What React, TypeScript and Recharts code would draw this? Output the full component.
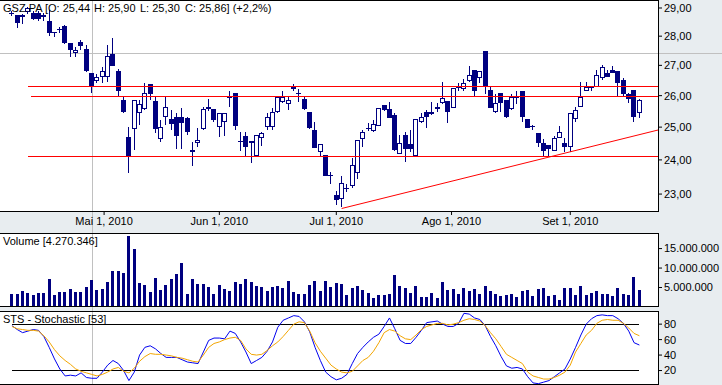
import React from "react";
import { ComposedChart, Bar, Line, XAxis, YAxis, ReferenceLine } from "recharts";

// ---------- data ----------
const opens = [
  28.80, 28.75, 28.68, 28.85, 28.82, 28.82, 28.68, 28.54, 28.13, 28.24,
  28.36, 27.75, 27.42, 27.78, 27.55, 26.74, 26.47, 26.61, 26.61, 27.39,
  26.80, 25.85, 24.69, 24.94, 25.43, 25.56, 26.37, 25.82, 24.63, 25.31,
  25.24, 25.31, 25.31, 25.28, 24.25, 24.52, 24.94, 25.62, 25.56, 25.00,
  25.15, 25.92, 26.10, 24.57, 24.72, 24.52, 24.11, 24.66, 25.00, 25.00,
  25.49, 25.79, 25.72, 26.20, 26.04, 25.88, 25.49, 24.91, 24.25, 24.14,
  23.55, 22.98, 22.87, 23.17, 23.22, 23.60, 24.63, 24.97, 24.88, 25.03,
  25.69, 25.56, 25.37, 24.17, 24.75, 24.49, 24.11, 25.15, 25.46, 25.40,
  25.62, 25.75, 25.82, 25.59, 26.24, 26.20, 26.47, 26.83, 26.58, 27.49,
  26.17, 25.46, 26.07, 25.85, 25.56, 25.95, 26.14, 25.24, 25.03, 24.82,
  24.52, 24.46, 24.28, 24.66, 24.52, 24.40, 25.24, 25.62, 26.14, 26.27,
  26.27, 26.58, 26.74, 26.83, 26.80, 26.50, 26.04, 26.17, 25.44,
];
const highs = [
  28.90, 28.75, 28.78, 29.05, 28.90, 28.88, 28.82, 28.93, 28.16, 28.33,
  28.38, 27.75, 27.62, 27.87, 27.70, 26.76, 26.71, 26.95, 27.70, 27.93,
  26.88, 26.00, 25.00, 25.85, 25.85, 26.40, 26.37, 25.95, 25.21, 25.98,
  25.53, 25.43, 25.60, 25.31, 24.55, 24.97, 25.62, 25.88, 25.56, 25.43,
  25.45, 26.14, 26.10, 24.85, 24.85, 24.57, 24.75, 24.85, 25.43, 25.59,
  25.95, 26.14, 25.95, 26.37, 26.20, 25.95, 25.49, 25.15, 24.49, 24.14,
  23.63, 23.08, 23.52, 23.28, 24.05, 24.60, 24.91, 25.12, 25.21, 25.59,
  25.69, 25.79, 25.43, 24.75, 24.85, 24.91, 25.24, 25.43, 25.53, 25.79,
  25.75, 26.43, 25.82, 26.24, 26.40, 26.53, 26.97, 26.83, 26.80, 27.49,
  26.27, 26.04, 26.07, 25.85, 26.04, 26.14, 26.14, 25.24, 25.06, 24.82,
  24.63, 24.46, 24.72, 25.03, 24.66, 25.43, 25.62, 26.43, 26.43, 26.33,
  26.83, 27.00, 26.86, 26.97, 26.80, 26.58, 26.07, 26.17, 25.90,
];
const lows = [
  28.70, 28.29, 28.43, 28.80, 28.58, 28.55, 28.55, 28.00, 27.98, 28.12,
  27.72, 27.28, 27.28, 27.52, 26.78, 26.10, 26.40, 26.40, 26.43, 26.97,
  25.95, 25.43, 23.60, 24.31, 25.06, 25.53, 25.85, 24.82, 24.55, 25.06,
  24.91, 24.34, 24.34, 24.75, 23.83, 24.40, 24.91, 25.50, 25.15, 24.69,
  24.72, 25.62, 24.91, 24.28, 24.11, 23.91, 24.11, 24.43, 24.91, 24.91,
  25.43, 25.76, 25.53, 26.14, 25.79, 25.53, 24.94, 24.37, 24.08, 23.52,
  23.28, 22.70, 22.62, 23.06, 23.17, 23.44, 24.40, 24.88, 24.85, 25.03,
  25.50, 25.28, 24.28, 24.17, 23.94, 24.25, 24.11, 25.12, 24.97, 25.37,
  25.49, 25.72, 25.12, 25.59, 26.14, 26.14, 26.43, 25.95, 26.40, 26.04,
  25.59, 25.43, 25.46, 25.28, 25.53, 25.72, 25.15, 24.97, 24.91, 24.40,
  24.11, 24.11, 24.28, 24.66, 24.25, 24.25, 25.15, 25.62, 26.14, 26.14,
  26.27, 26.50, 26.61, 26.74, 25.95, 26.00, 25.75, 25.15, 25.30,
];
const closes = [
  28.80, 28.47, 28.75, 29.00, 28.61, 28.61, 28.75, 28.12, 28.12, 28.25,
  27.75, 27.52, 27.52, 27.65, 26.80, 26.30, 26.61, 26.80, 27.32, 26.97,
  26.14, 25.46, 24.11, 25.85, 25.72, 26.07, 26.04, 24.94, 25.00, 25.62,
  25.09, 24.72, 25.12, 24.85, 24.31, 24.60, 25.56, 25.56, 25.21, 25.43,
  25.43, 25.95, 25.03, 24.55, 24.40, 24.57, 24.75, 24.82, 25.31, 25.46,
  25.95, 25.95, 25.85, 26.27, 26.07, 25.56, 24.97, 24.37, 24.49, 23.52,
  23.52, 22.82, 23.31, 23.14, 23.86, 24.60, 24.85, 24.94, 25.09, 25.59,
  25.53, 25.28, 24.31, 24.52, 24.34, 24.34, 25.24, 25.31, 25.31, 25.46,
  25.56, 25.92, 25.46, 26.24, 26.30, 26.40, 26.67, 26.14, 26.80, 26.33,
  25.59, 25.75, 25.75, 25.31, 25.95, 25.92, 25.31, 24.97, 25.00, 24.52,
  24.28, 24.34, 24.66, 24.85, 24.40, 25.43, 25.53, 25.95, 26.27, 26.24,
  26.67, 26.93, 26.61, 26.74, 26.40, 26.04, 25.88, 25.31, 25.86,
];
// volume in millions of shares
const volumesM = [
  3.4, 3.4, 4.1, 3.6, 3.1, 3.6, 3.6, 7.3, 3.1, 3.8,
  3.8, 4.6, 3.9, 3.9, 5.1, 6.9, 4.4, 4.7, 6.4, 9.2,
  9.2, 8.7, 18.2, 15.0, 6.2, 5.6, 3.9, 7.5, 4.4, 5.6,
  7.3, 8.5, 11.3, 3.3, 7.3, 5.9, 5.9, 5.1, 3.3, 5.6,
  4.6, 4.1, 6.4, 5.9, 7.3, 6.4, 5.4, 5.1, 4.1, 5.2,
  5.4, 4.9, 6.7, 3.8, 3.3, 3.3, 5.6, 6.7, 4.1, 6.7,
  5.1, 6.2, 5.9, 3.1, 4.9, 5.4, 4.4, 3.7, 2.4, 3.2,
  3.2, 3.4, 8.2, 5.4, 5.0, 3.6, 5.4, 2.6, 2.6, 3.6,
  2.4, 6.4, 4.4, 4.7, 3.4, 5.0, 4.2, 4.7, 3.3, 5.4,
  4.2, 3.4, 2.9, 3.2, 3.4, 2.6, 4.2, 4.4, 2.9, 4.7,
  5.0, 2.9, 3.2, 1.9, 5.0, 5.0, 3.2, 5.4, 3.2, 3.7,
  4.1, 3.4, 3.4, 2.9, 5.0, 3.4, 3.2, 7.8, 4.270346,
];
const stochK = [
  78, 73, 69, 71, 73, 72, 64, 50, 35, 22,
  13, 14, 13, 17, 11, 10, 10, 18, 27, 33,
  29, 20, 7, 18, 40, 50, 52, 48, 42, 37,
  37, 37, 34, 31, 30, 29, 44, 59, 62, 62,
  61, 71, 68, 57, 44, 29, 33, 37, 45, 57,
  76, 85, 88, 91, 90, 83, 70, 50, 33, 18,
  12, 8, 10, 15, 29, 42, 50, 57, 63, 67,
  77, 88, 74, 59, 55, 55, 63, 72, 82, 83,
  84, 80, 77, 77, 81, 94, 93, 88, 86, 78,
  64, 52, 38, 26, 23, 24, 22, 12, 4, 3,
  5, 7, 12, 17, 22, 35, 50, 66, 80, 87,
  91, 92, 91, 91, 87, 81, 71, 56, 53,
];
const stochD = [
  77, 74, 73, 72, 72, 71, 65, 57, 47, 39,
  33, 28, 22, 19, 17, 15, 13, 15, 18, 22,
  24, 19, 17, 23, 32, 38, 42, 41, 41, 40,
  39, 37, 36, 34, 32, 31, 40, 50, 55, 57,
  60, 62, 63, 59, 48, 41, 40, 41, 46, 52,
  57, 64, 72, 80, 83, 82, 71, 56, 45, 36,
  27, 22, 18, 17, 19, 26, 33, 37, 45, 56,
  69, 73, 71, 65, 61, 60, 66, 73, 77, 79,
  81, 81, 79, 80, 82, 85, 87, 86, 84, 78,
  69, 61, 51, 41, 37, 33, 29, 18, 13, 11,
  9, 9, 11, 14, 18, 27, 44, 55, 66, 72,
  81, 85, 86, 85, 85, 81, 75, 68, 65,
];

const monthTicks = [17.33, 39, 61, 82.67, 105];
const monthLabels = ["Mai 1, 2010", "Jun 1, 2010", "Jul 1, 2010", "Ago 1, 2010", "Set 1, 2010"];
const priceTicks = [23, 24, 25, 26, 27, 28, 29];
const volumeTicks = [5000000, 10000000, 15000000];
const stochTicks = [20, 40, 60, 80];
const stochBands = [80, 20];

// drawn study lines: horizontal levels (start slot, price) and trend line
const levelStarts = [3, 3.6, 3];
const levelPrices = [26.3, 25.98, 24.09];
const trendSlots = [62, 121.5];
const trendPrices = [22.59, 24.91];

// ---------- chart setup ----------
const NAVY = "#000080";
const FONT = "'Liberation Sans', Arial, sans-serif";
const BG = "#e8edf0";
const EMPTY_SLOTS = 3;
const N = opens.length;
const rows = Array.from({ length: N + EMPTY_SLOTS }, (_, i) =>
  i < N
    ? { i, o: opens[i], h: highs[i], l: lows[i], c: closes[i], vol: volumesM[i] * 1e6, k: stochK[i], d: stochD[i] }
    : { i }
);
const X_DOMAIN: [number, number] = [-0.5, N + EMPTY_SLOTS - 0.5];
const X_PAD = { left: 9.3, right: 0 };
const W = 722;
const AXIS_W = 64;
const tickStyle = { fontSize: 11, fontFamily: FONT, fill: "#000" };

const wickKey = (d: any) => (d.o == null ? null : [d.l, d.h]);
const bodyKey = (d: any) => (d.o == null ? null : [Math.min(d.o, d.c), Math.max(d.o, d.c)]);

const norm = (p: any) => {
  let { y, height } = p;
  if (height < 0) {
    y = y + height;
    height = -height;
  }
  return { x: p.x, y, width: p.width, height };
};

const Wick = (p: any) => {
  if (!p.payload || p.payload.o == null || p.y == null || isNaN(p.y)) return null;
  const { x, y, width, height } = norm(p);
  return <rect x={x} y={y} width={width} height={Math.max(height, 1)} fill={NAVY} shapeRendering="crispEdges" />;
};

const Body = (p: any) => {
  if (!p.payload || p.payload.o == null || p.y == null || isNaN(p.y)) return null;
  const { x, y, width, height } = norm(p);
  const up = p.payload.c >= p.payload.o;
  if (height < 1.5) {
    return <rect x={x} y={y - 0.5} width={width} height={1} fill={NAVY} shapeRendering="crispEdges" />;
  }
  if (up) {
    return (
      <rect x={x + 0.5} y={y + 0.5} width={width - 1} height={height - 1} fill="#fff" stroke={NAVY} strokeWidth={1} shapeRendering="crispEdges" />
    );
  }
  return <rect x={x} y={y} width={width} height={height} fill={NAVY} shapeRendering="crispEdges" />;
};

const VolBar = (p: any) => {
  if (p.y == null || isNaN(p.y) || !p.height) return null;
  const { x, y, width, height } = norm(p);
  return <rect x={x} y={y} width={width} height={height} fill={NAVY} shapeRendering="crispEdges" />;
};

const fmtPrice = (v: number) => v.toFixed(2).replace(".", ",");
const fmtVol = (v: number) => String(v).replace(/\B(?=(\d{3})+(?!\d))/g, ".");
const fmtMonth = (v: number) => {
  const k = monthTicks.indexOf(v);
  return k >= 0 ? monthLabels[k] : "";
};

const abs = (l: number, t: number, w: number, h: number, extra: any = {}) => ({
  position: "absolute" as const,
  left: l,
  top: t,
  width: w,
  height: h,
  boxSizing: "border-box" as const,
  ...extra,
});

export default function App() {
  return (
    <div style={abs(0, 0, W, 385, { background: BG, overflow: "hidden" })}>
      {/* panel backgrounds */}
      <div style={abs(-1, 0, 660, 212, { background: "#fff" })} />
      <div style={abs(-1, 233, 660, 74, { background: "#fff" })} />
      <div style={abs(-1, 311, 660, 74, { background: "#fff" })} />
      {/* crosshair cursor */}
      <div style={abs(92, 0, 1, 385, { background: "#c0c0c0" })} />
      <div style={abs(0, 53, W, 1, { background: "#c0c0c0" })} />

      {/* price panel */}
      <div style={abs(0, 0, W, 232)}>
        <ComposedChart width={W} height={232} data={rows} margin={{ top: 0, right: 0, bottom: 0, left: 0 }}>
          <XAxis
            xAxisId="n"
            dataKey="i"
            type="number"
            domain={X_DOMAIN}
            allowDataOverflow
            padding={X_PAD}
            ticks={monthTicks}
            interval={0}
            tickFormatter={fmtMonth}
            height={21}
            tickSize={4}
            tickMargin={2}
            axisLine={false}
            tickLine={{ stroke: "#000" }}
            tick={tickStyle}
          />
          <XAxis xAxisId="w" dataKey="i" type="category" hide height={0} padding={X_PAD} />
          <XAxis xAxisId="b" dataKey="i" type="category" hide height={0} padding={X_PAD} />
          <YAxis
            orientation="right"
            scale="log"
            type="number"
            domain={[22.52, 29.29]}
            allowDataOverflow
            ticks={priceTicks}
            interval={0}
            tickFormatter={fmtPrice}
            width={AXIS_W}
            tickSize={4}
            tickMargin={2}
            axisLine={false}
            tickLine={{ stroke: "#000" }}
            tick={tickStyle}
          />
          <Bar xAxisId="w" dataKey={wickKey} barSize={1} shape={Wick} isAnimationActive={false} />
          <Bar xAxisId="b" dataKey={bodyKey} barSize={5} shape={Body} isAnimationActive={false} />
          {levelPrices.map((p, k) => (
            <ReferenceLine
              key={"lv" + k}
              xAxisId="n"
              segment={[
                { x: levelStarts[k], y: p },
                { x: X_DOMAIN[1], y: p },
              ]}
              stroke="#ff0000"
              strokeWidth={1}
              shapeRendering="crispEdges"
            />
          ))}
          <ReferenceLine
            xAxisId="n"
            segment={[
              { x: trendSlots[0], y: trendPrices[0] },
              { x: trendSlots[1], y: trendPrices[1] },
            ]}
            stroke="#ff0000"
            strokeWidth={1}
          />
        </ComposedChart>
      </div>

      {/* volume panel */}
      <div style={abs(0, 233, W, 74)}>
        <ComposedChart width={W} height={74} data={rows} margin={{ top: 0, right: 0, bottom: 0, left: 0 }}>
          <XAxis xAxisId="v" dataKey="i" type="category" hide height={0} padding={X_PAD} />
          <YAxis
            orientation="right"
            type="number"
            domain={[0, 19000000]}
            allowDataOverflow
            ticks={volumeTicks}
            interval={0}
            tickFormatter={fmtVol}
            width={AXIS_W}
            tickSize={4}
            tickMargin={2}
            axisLine={false}
            tickLine={{ stroke: "#000" }}
            tick={tickStyle}
          />
          <Bar xAxisId="v" dataKey="vol" barSize={3} fill={NAVY} shape={VolBar} isAnimationActive={false} />
        </ComposedChart>
      </div>

      {/* stochastic panel */}
      <div style={abs(0, 311, W, 75)}>
        <ComposedChart width={W} height={75} data={rows} margin={{ top: 0, right: 0, bottom: 0, left: 0 }}>
          <XAxis xAxisId="n" dataKey="i" type="number" domain={X_DOMAIN} allowDataOverflow padding={X_PAD} hide height={0} />
          <YAxis
            orientation="right"
            type="number"
            domain={[0, 97]}
            allowDataOverflow
            ticks={stochTicks}
            interval={0}
            width={AXIS_W}
            tickSize={4}
            tickMargin={2}
            axisLine={false}
            tickLine={{ stroke: "#000" }}
            tick={tickStyle}
          />
          {stochBands.map((b) => (
            <ReferenceLine
              key={"sb" + b}
              xAxisId="n"
              segment={[
                { x: 0, y: b },
                { x: N - 1, y: b },
              ]}
              stroke="#000"
              strokeWidth={1}
              shapeRendering="crispEdges"
            />
          ))}
          <Line xAxisId="n" type="linear" dataKey="k" stroke="#0000ee" strokeWidth={1} dot={false} activeDot={false} isAnimationActive={false} />
          <Line xAxisId="n" type="linear" dataKey="d" stroke="#f2a500" strokeWidth={1} dot={false} activeDot={false} isAnimationActive={false} />
        </ComposedChart>
      </div>

      {/* panel borders */}
      <div style={abs(-1, 0, 660, 212, { border: "1px solid #000" })} />
      <div style={abs(-1, 233, 660, 74, { border: "1px solid #000" })} />
      <div style={abs(-1, 311, 660, 74, { border: "1px solid #000" })} />

      {/* labels */}
      <svg width={W} height={385} style={{ position: "absolute", left: 0, top: 0, pointerEvents: "none" }}>
        <g fontFamily={FONT} fontSize={11} fill="#000">
          <text x={3} y={12}>GSZ.PA [O: 25,44</text>
          <text x={94} y={12}>H: 25,90</text>
          <text x={140} y={12}>L: 25,30</text>
          <text x={185} y={12} xmlSpace="preserve">C: 25,86] (+2,2%)</text>
          <text x={3} y={245}>Volume [4.270.346]</text>
          <text x={3} y={323}>STS - Stochastic [53]</text>
        </g>
      </svg>
    </div>
  );
}
